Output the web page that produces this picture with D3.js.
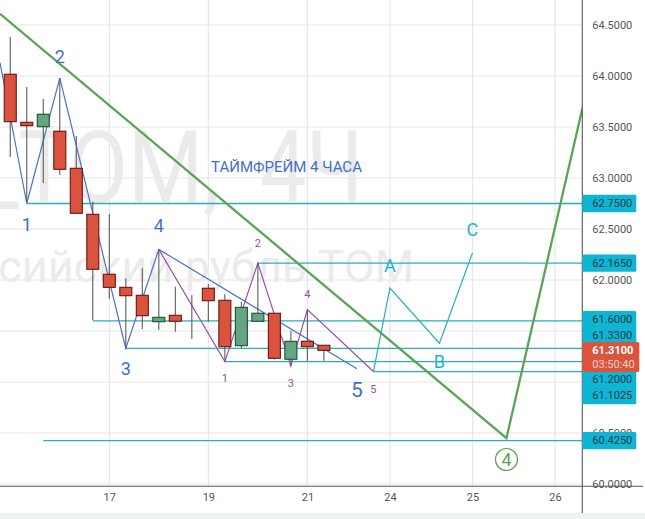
<!DOCTYPE html>
<html>
<head>
<meta charset="utf-8">
<script src="https://cdn.jsdelivr.net/npm/d3@7"></script>
<style>
html,body{margin:0;padding:0;background:#fff;overflow:hidden}
text{font-family:Roboto,sans-serif}
</style>
</head>
<body>
<script>
// candles, bar 0 is the first 4h bar of the 17th
const bars=[-6,-5,-4,-3,-2,-1,0,1,2,3,4,5,6,7,8,9,10,11,12,13]
const opens=[64.017,63.546,63.503,63.458,63.095,62.644,62.056,61.928,61.85,61.591,61.654,61.575,61.919,61.801,61.356,61.595,61.674,61.223,61.399,61.36]
const closes=[63.552,63.513,63.625,63.085,62.654,62.105,61.928,61.846,61.65,61.634,61.595,61.575,61.797,61.346,61.732,61.674,61.232,61.399,61.346,61.31]
const highs=[64.382,63.892,63.775,63.98,63.412,62.768,62.647,62.017,62.115,62.3,61.934,61.853,61.961,61.86,61.787,62.17,61.676,61.503,61.706,61.36]
const lows=[63.206,62.765,62.951,63.03,62.65,61.608,61.814,61.333,61.52,61.51,61.493,61.422,61.591,61.206,61.333,61.595,61.221,61.157,61.209,61.209]

const yTicks=[64.5,64,63.5,63,62.5,62,61.5,61,60.5,60]
const xTickBars=[0,6,12,17,22,27]
const xTickLabels=["17","19","21","24","25","26"]

// levels: price, bar where the line starts
const levelPrices=[62.75,62.165,61.6,61.33,61.2,61.1025,60.425]
const levelStarts=[-5,9,-1,1,7,16,-4]

// wave lines as [bar, price]
const blueWave=[[-6.62,64.13],[-5,62.75],[-3,63.98],[1,61.33],[3,62.3],[15,61.13]]
const purpleWave=[[3,62.3],[7,61.2],[9,62.165],[11,61.157],[12,61.71],[16,61.1025]]
const cyanWave=[[16,61.1025],[17,61.92],[20,61.38],[22,62.265]]
const greenWave=[[-6.62,64.61],[24.06,60.45],[28.67,63.69]]

// wave labels: [bar, price, text]
const blueLabels=[[-5,62.54,"1"],[-3,64.19,"2"],[1,61.13,"3"],[3,62.53,"4"]]
const purpleLabels=[[7,61.03,"1"],[9,62.36,"2"],[11,60.99,"3"],[12,61.86,"4"],[16,60.93,"5"]]
const cyanLabels=[[17,62.14,"A"],[20,61.2,"B"],[22,62.5,"C"]]

const lastPrice="61.3100"
const countdown="03:50:40"

const W=645,H=519,paneW=582.3,paneH=486.3

const x=d3.scaleLinear().domain([0,27]).range([109.3,555])
const y=d3.scaleLinear().domain([64.5,60]).range([25,484])

const svg=d3.select("body").append("svg").attr("width",W).attr("height",H).style("display","block")

svg.append("defs").append("clipPath").attr("id","pane")
    .append("rect").attr("width",paneW).attr("height",paneH)

svg.append("rect").attr("x",0).attr("y",513).attr("width",W).attr("height",H-513).attr("fill","#f0f3f4")

const pane=svg.append("g").attr("clip-path","url(#pane)")

// grid
pane.selectAll(".gy").data(yTicks).enter().append("line")
    .attr("x1",0).attr("x2",paneW)
    .attr("y1",d=>y(d)).attr("y2",d=>y(d))
    .attr("stroke","#e6e6e6").attr("stroke-width",1.2)
pane.selectAll(".gx").data(xTickBars).enter().append("line")
    .attr("y1",0).attr("y2",paneH)
    .attr("x1",d=>x(d)).attr("x2",d=>x(d))
    .attr("stroke","#e6e6e6").attr("stroke-width",1.2)

// watermark, split so the gap after the comma stays wide
pane.append("text").attr("x",220).attr("y",202).attr("text-anchor","end")
    .attr("font-size",100).attr("fill","#ebebeb").attr("textLength",566).attr("lengthAdjust","spacingAndGlyphs")
    .text("USDRUB_TOM,")
pane.append("text").attr("x",363).attr("y",202).attr("text-anchor","end")
    .attr("font-size",100).attr("fill","#ebebeb").attr("textLength",103).attr("lengthAdjust","spacingAndGlyphs")
    .text("4Ч")
pane.append("text").attr("x",414).attr("y",282).attr("text-anchor","end")
    .attr("font-size",45).attr("fill","#ebebeb").text("Доллар США / Российский рубль TOM")

// levels
pane.selectAll(".level").data(levelPrices).enter().append("line")
    .attr("x1",(d,i)=>x(levelStarts[i])).attr("x2",paneW)
    .attr("y1",d=>y(d)).attr("y2",d=>y(d))
    .attr("stroke","#2aaebb").attr("stroke-width",1.3)

const line=d3.line().x(d=>x(d[0])).y(d=>y(d[1]))
function wave(pts,color,w){
    pane.append("path").datum(pts).attr("d",line)
        .attr("fill","none").attr("stroke",color).attr("stroke-width",w)
}
wave(blueWave,"#4a72c4",1.2)
wave(purpleWave,"#9a4ea6",1.2)
wave(cyanWave,"#2aaebb",1.2)

// candles
const candle=pane.selectAll(".candle").data(bars).enter().append("g")
candle.append("line")
    .attr("x1",d=>x(d)).attr("x2",d=>x(d))
    .attr("y1",(d,i)=>y(highs[i])).attr("y2",(d,i)=>y(lows[i]))
    .attr("stroke","#5c5c5c").attr("stroke-width",1.1)
candle.append("rect")
    .attr("x",d=>x(d)-6)
    .attr("width",12)
    .attr("y",(d,i)=>y(Math.max(opens[i],closes[i])))
    .attr("height",(d,i)=>Math.abs(y(opens[i])-y(closes[i])))
    .attr("fill",(d,i)=>closes[i]>opens[i]?"#66a582":"#d9533f")
    .attr("stroke",(d,i)=>closes[i]>opens[i]?"#1c4f33":"#6e1410")
    .attr("stroke-width",1.1)

wave(greenWave,"#5aa457",2.3)

// labels on the waves
function labels(list,color,size){
    pane.selectAll(".l").data(list,d=>d).enter().append("text")
        .attr("x",d=>x(d[0])).attr("y",d=>y(d[1]))
        .attr("text-anchor","middle").attr("dominant-baseline","central")
        .attr("font-size",size).attr("fill",color)
        .text(d=>d[2])
}
labels(blueLabels,"#3f6fcb",18)
labels([[15,60.92,"5"]],"#3f6fcb",21)
labels(purpleLabels,"#9a4ea6",11)
labels(cyanLabels,"#22b4c6",18)

pane.append("text").attr("x",286.5).attr("y",167)
    .attr("text-anchor","middle").attr("dominant-baseline","central")
    .attr("font-size",15).attr("fill","#3f6fcb").text("ТАЙМФРЕЙМ 4 ЧАСА")

// circled 4 under the end of the green line
pane.append("circle").attr("cx",x(24.06)).attr("cy",y(60.24)).attr("r",11)
    .attr("fill","none").attr("stroke","#5aa457").attr("stroke-width",1.2)
pane.append("text").attr("x",x(24.06)).attr("y",y(60.24))
    .attr("text-anchor","middle").attr("dominant-baseline","central")
    .attr("font-size",18).attr("fill","#5aa457").text("4")

// axes
const yAxis=d3.axisRight(y).tickValues(yTicks).tickFormat(d3.format(".4f")).tickSize(0).tickPadding(10)
const yg=svg.append("g").attr("transform","translate("+paneW+",0)").call(yAxis)
yg.select(".domain").remove()
yg.selectAll("text").attr("font-size",11).attr("fill","#555").attr("font-family","Roboto")

const xAxis=d3.axisBottom(x).tickValues(xTickBars).tickFormat((d,i)=>xTickLabels[i]).tickSize(0).tickPadding(7)
const xg=svg.append("g").attr("transform","translate(0,"+paneH+")").call(xAxis)
xg.select(".domain").remove()
xg.selectAll("text").attr("font-size",11).attr("fill","#555").attr("font-family","Roboto")

svg.append("line").attr("x1",0).attr("x2",643).attr("y1",paneH).attr("y2",paneH).attr("stroke","#555").attr("stroke-width",1.1)
svg.append("line").attr("x1",paneW).attr("x2",paneW).attr("y1",0).attr("y2",513).attr("stroke","#555").attr("stroke-width",1.1)

// price tags, the close ones get pushed apart like on the original
const tagShift={"61.6":-1,"61.33":-13,"61.2":17.5,"61.1025":24}
const tags=svg.selectAll(".tag").data(levelPrices).enter().append("g")
    .attr("transform",d=>"translate("+paneW+","+(y(d)+(tagShift[d]||0))+")")
tags.append("rect").attr("x",0).attr("y",-8.7).attr("width",54).attr("height",17.4).attr("rx",1.5).attr("fill","#0fb5d2")
tags.append("text").attr("x",10).attr("dominant-baseline","central")
    .attr("font-size",11).attr("fill","#0f3d4c").text(d=>d3.format(".4f")(d))

// last price tag
const last=svg.append("g").attr("transform","translate("+paneW+",342)")
last.append("rect").attr("width",57).attr("height",30).attr("rx",1.5).attr("fill","#d9553f")
last.append("text").attr("x",10).attr("y",8).attr("dominant-baseline","central")
    .attr("font-size",11).attr("font-weight","bold").attr("fill","#fff").text(lastPrice)
last.append("text").attr("x",10).attr("y",22).attr("dominant-baseline","central")
    .attr("font-size",11).attr("fill","#f5cfc8").text(countdown)
</script>
</body>
</html>
